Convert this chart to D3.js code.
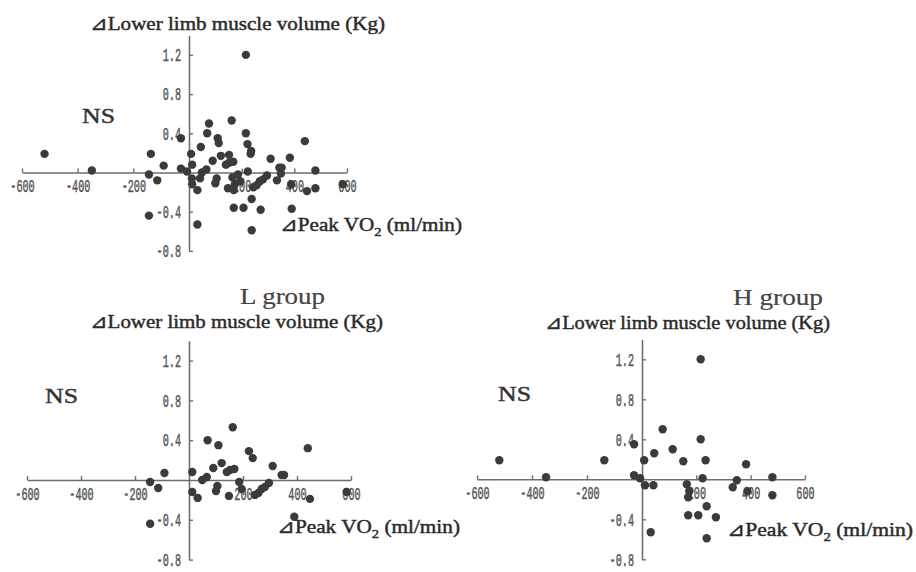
<!DOCTYPE html>
<html>
<head>
<meta charset="utf-8">
<script src="https://cdn.jsdelivr.net/npm/d3@7"></script>
<style>
  body { margin: 0; background: #fff; }
  svg { display: block; }
</style>
</head>
<body>
<div id="scatter_panels"></div>
<script>
var svgSelector = "#scatter_panels";
var default_width = 916;
var default_height = 572;

// tick labels (0 is not labelled, the other axis crosses there)
var xTickValues = [-600, -400, -200, 200, 400, 600];
var yTickValues = [-0.8, -0.4, 0.4, 0.8, 1.2];

// L group: delta peak VO2 (ml/min) / delta lower limb muscle volume (Kg)
var lGroupVO2 = [-144, -114, -91, -144, 12, 12, 32, 49, 66, 69, 90, 100, 109, 105, 121, 140, 152, 168,
                 162, 148, 186, 195, 222, 236, 244, 257, 269, 281, 296, 310, 343, 352, 390, 440, 448, 584];
var lGroupMuscle = [-0.02, -0.08, 0.07, -0.44, 0.08, -0.12, -0.18, 0.0, 0.03, 0.40, 0.12, -0.11, 0.35, -0.06, 0.17, 0.08, 0.10, 0.11,
                    0.53, -0.16, -0.02, -0.09, 0.29, 0.22, -0.15, -0.13, -0.09, -0.07, -0.03, 0.14, 0.05, 0.05, -0.37, 0.32, -0.19, -0.12];

// H group
var hGroupVO2 = [-519, -349, -137, -29, -29, -7, 8, 45, 11, 42, 32, 76, 113, 152, 165, 174, 170, 170,
                 207, 216, 216, 234, 223, 238, 272, 238, 334, 349, 383, 388, 480, 480];
var hGroupMuscle = [0.19, 0.02, 0.19, 0.35, 0.04, 0.01, 0.19, 0.26, -0.06, -0.06, -0.53, 0.50, 0.30, 0.18, -0.05, -0.12, -0.18, -0.36,
                    -0.36, 1.20, 0.40, 0.19, 0.01, -0.27, -0.38, -0.59, -0.08, -0.01, 0.15, -0.12, 0.02, -0.16];

////////////////////////////////////////////////////////////////////////////////////////////////

var serifFont = "'Liberation Serif', 'Times New Roman', serif";
var tickFont = "'Liberation Mono', 'DejaVu Sans Mono', monospace";

var panels = [
    {   // all subjects
        vo2: lGroupVO2.concat(hGroupVO2),
        muscle: lGroupMuscle.concat(hGroupMuscle),
        xRange: [22, 189, 347], yRange: [250.9, 35.3],
        yTitle: {x: 90, y: 30, w: 295},
        xTitle: {x: 280, y: 231, w: 182},
        ns: {x: 82, y: 123}
    },
    {
        vo2: lGroupVO2, muscle: lGroupMuscle,
        xRange: [27, 189, 351], yRange: [559.6, 340.7],
        title: {text: "L group", x: 240, y: 304, w: 85},
        yTitle: {x: 90, y: 328, w: 293},
        xTitle: {x: 277, y: 533, w: 183},
        ns: {x: 45, y: 403}
    },
    {
        vo2: hGroupVO2, muscle: hGroupMuscle,
        xRange: [477, 642, 805], yRange: [559.3, 339.3],
        title: {text: "H group", x: 733, y: 305, w: 90},
        yTitle: {x: 545, y: 329, w: 285},
        xTitle: {x: 727, y: 536, w: 186},
        ns: {x: 498, y: 401}
    }
];

function styleTicks(axisG) {
    axisG.select(".domain").attr("stroke", "#6e6e6e").attr("stroke-width", 1.6);
    axisG.selectAll(".tick line").attr("stroke", "#6e6e6e").attr("stroke-width", 1.4);
    axisG.selectAll(".tick text")
        .attr("fill", "#575757")
        .attr("stroke", "#575757")
        .attr("stroke-width", 0.5)
        .attr("font-family", tickFont)
        .attr("font-size", 18)
        .attr("textLength", function() { return this.textContent.length * 6.1; })
        .attr("lengthAdjust", "spacingAndGlyphs");
}

function serifText(g, x, y, size, color, width, str) {
    return g.append("text")
        .attr("x", x).attr("y", y)
        .attr("font-family", serifFont).attr("font-size", size)
        .attr("fill", color).attr("stroke", color).attr("stroke-width", 0.45)
        .attr("textLength", width).attr("lengthAdjust", "spacingAndGlyphs")
        .text(str);
}

function drawPanel(svg, p) {
    var x = d3.scaleLinear().domain([-600, 0, 600]).range(p.xRange);
    var y = d3.scaleLinear().domain([-0.8, 1.4]).range(p.yRange);
    var g = svg.append("g");

    g.append("g")
        .attr("transform", "translate(0," + y(0) + ")")
        .call(d3.axisBottom(x).tickValues(xTickValues).tickSizeInner(-4).tickSizeOuter(0).tickPadding(7)
            .tickFormat(function(d) { return String(d); }))
        .call(styleTicks);

    g.append("g")
        .attr("transform", "translate(" + x(0) + ",0)")
        .call(d3.axisLeft(y).tickValues(yTickValues).tickSizeInner(-4).tickSizeOuter(0).tickPadding(8)
            .tickFormat(function(d) { return d.toFixed(1); }))
        .call(styleTicks);

    g.append("g")
        .selectAll("circle")
        .data(p.vo2.map(function(v, i) { return {vo2: v, muscle: p.muscle[i]}; }))
        .enter().append("circle")
            .attr("cx", function(d) { return x(d.vo2); })
            .attr("cy", function(d) { return y(d.muscle); })
            .attr("r", 4.2)
            .attr("fill", "#3b3b3b");

    serifText(g, p.yTitle.x, p.yTitle.y, 19, "#2a2a2a", p.yTitle.w, "\u22BFLower limb muscle volume (Kg)");

    var xt = serifText(g, p.xTitle.x, p.xTitle.y, 19, "#2a2a2a", p.xTitle.w, null);
    xt.append("tspan").text("\u22BFPeak VO");
    xt.append("tspan").attr("dy", 5).attr("font-size", 13).text("2");
    xt.append("tspan").attr("dy", -5).text(" (ml/min)");

    serifText(g, p.ns.x, p.ns.y, 22, "#333", 33, "NS");

    if (p.title) {
        serifText(g, p.title.x, p.title.y, 23, "#444", p.title.w, p.title.text)
            .attr("stroke-width", 0.2);
    }
}

var svg = d3.select(svgSelector).append("svg")
    .attr("width", default_width)
    .attr("height", default_height);

panels.forEach(function(p) {
    drawPanel(svg, p);
});
</script>
</body>
</html>
